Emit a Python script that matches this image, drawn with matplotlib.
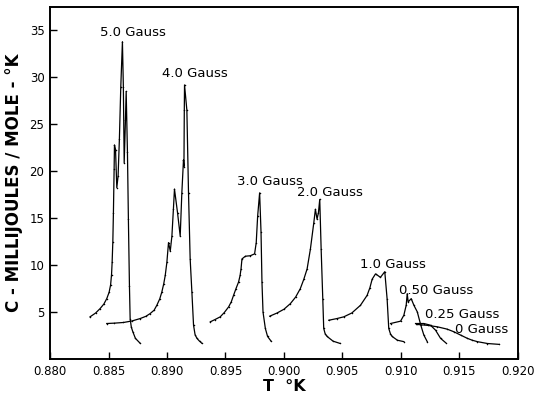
import matplotlib
matplotlib.use("Agg")
import matplotlib.pyplot as plt

# ---- data ----
t_50 = [0.88342, 0.88390, 0.88428, 0.88460, 0.88485, 0.88505, 0.88518, 0.88526, 0.88531, 0.88537,
        0.88542, 0.88548, 0.88551, 0.88560, 0.88571, 0.88582, 0.88593, 0.88605, 0.88619, 0.88627,
        0.88634, 0.88645, 0.88651, 0.88662, 0.88670, 0.88679, 0.88685, 0.88695, 0.88708, 0.88730,
        0.88771]
c_50 = [4.49, 4.90, 5.37, 5.85, 6.43, 7.10, 7.90, 9.00, 10.3, 12.5,
        15.6, 20.2, 22.8, 22.3, 18.25, 19.5, 23.4, 29.0, 33.8, 29.0,
        20.9, 25.5, 28.5, 22.0, 14.9, 7.8, 4.3, 3.4, 2.9, 2.2,
        1.67]

t_40 = [0.88485, 0.88550, 0.88628, 0.88700, 0.88771, 0.88820, 0.88856, 0.88890, 0.88913, 0.88938,
        0.88956, 0.88972, 0.88985, 0.88999, 0.89013, 0.89028, 0.89042, 0.89055, 0.89064, 0.89090,
        0.89113, 0.89127, 0.89141, 0.89145, 0.89148, 0.89150, 0.89170, 0.89184, 0.89198, 0.89213,
        0.89227, 0.89240, 0.89256, 0.89278, 0.89299]
c_40 = [3.78, 3.82, 3.89, 4.05, 4.31, 4.55, 4.84, 5.20, 5.72, 6.40,
        7.14, 8.00, 8.9, 10.3, 12.4, 11.5, 13.1, 16.0, 18.1, 15.6,
        13.1, 17.7, 21.2, 20.5, 26.5, 29.2, 26.5, 17.7, 10.7, 7.1,
        3.6, 2.6, 2.2, 1.9, 1.67]

t_30 = [0.89370, 0.89410, 0.89455, 0.89490, 0.89527, 0.89550, 0.89569, 0.89590, 0.89612, 0.89625,
        0.89633, 0.89641, 0.89670, 0.89712, 0.89749, 0.89763, 0.89775, 0.89792, 0.89804, 0.89812,
        0.89821, 0.89841, 0.89860, 0.89890]
c_30 = [3.96, 4.20, 4.49, 4.95, 5.55, 6.10, 6.78, 7.50, 8.2, 8.9,
        9.6, 10.66, 10.95, 11.0, 11.2, 12.4, 15.2, 17.7, 13.5, 8.2,
        5.0, 3.25, 2.4, 1.9]

t_20 = [0.89878, 0.89941, 0.90000, 0.90055, 0.90100, 0.90140, 0.90170, 0.90198, 0.90226, 0.90255,
        0.90269, 0.90283, 0.90295, 0.90306, 0.90318, 0.90332, 0.90340, 0.90352, 0.90369, 0.90420,
        0.90477]
c_20 = [4.56, 4.90, 5.30, 5.90, 6.60, 7.50, 8.50, 9.6, 11.7, 14.5,
        15.95, 14.9, 15.6, 17.0, 11.7, 6.4, 3.25, 2.7, 2.4, 1.9,
        1.67]

t_10 = [0.90383, 0.90450, 0.90511, 0.90580, 0.90654, 0.90711, 0.90735, 0.90754, 0.90783, 0.90825,
        0.90862, 0.90882, 0.90896, 0.90910, 0.90925, 0.90970, 0.91025]
c_10 = [4.13, 4.30, 4.49, 4.90, 5.72, 6.78, 7.60, 8.5, 9.07, 8.7,
        9.3, 6.4, 3.25, 2.7, 2.4, 2.0, 1.85]

t_05 = [0.90911, 0.90997, 0.91025, 0.91045, 0.91054, 0.91062, 0.91088, 0.91111, 0.91140, 0.91170,
        0.91196, 0.91225]
c_05 = [3.78, 4.03, 4.66, 5.72, 6.96, 6.08, 6.43, 5.72, 5.02, 3.6,
        2.55, 1.85]

t_025 = [0.91125, 0.91196, 0.91253, 0.91296, 0.91339, 0.91382]
c_025 = [3.78, 3.78, 3.6, 3.07, 2.2, 1.74]

t_00 = [0.91140, 0.91230, 0.91311, 0.91396, 0.91453, 0.91510, 0.91568, 0.91610, 0.91653, 0.91740,
        0.91838]
c_00 = [3.68, 3.58, 3.43, 3.18, 2.9, 2.55, 2.2, 2.0, 1.85, 1.65,
        1.56]

labels = ["5.0 Gauss", "4.0 Gauss", "3.0 Gauss", "2.0 Gauss", "1.0 Gauss",
          "0.50 Gauss", "0.25 Gauss", "0 Gauss"]
label_t = [0.88706, 0.89237, 0.89884, 0.90389, 0.90932, 0.91305, 0.91525, 0.91690]
label_c = [34.8, 30.4, 18.95, 17.7, 10.1, 7.3, 4.77, 3.18]

x_ticks = [0.880, 0.885, 0.890, 0.895, 0.900, 0.905, 0.910, 0.915, 0.920]
x_ticklabels = ["0.880", "0.885", "0.890", "0.895", "0.900", "0.905", "0.910", "0.915", "0.920"]
y_ticks = [5, 10, 15, 20, 25, 30, 35]

series = [(t_50, c_50), (t_40, c_40), (t_30, c_30), (t_20, c_20),
          (t_10, c_10), (t_05, c_05), (t_025, c_025), (t_00, c_00)]

# ---- figure ----
plt.rcParams['font.family'] = ['DejaVu Sans']
fig = plt.figure(figsize=(5.35, 4.0), dpi=100)
ax = fig.add_axes([0.0935, 0.1025, 0.8745, 0.88])

for t, c in series:
    ax.plot(t, c, color="black", linewidth=0.9, marker='.', markersize=2.2,
            markerfacecolor='black', markeredgewidth=0)

for s, x, y in zip(labels, label_t, label_c):
    ax.text(x, y, s, ha="center", va="center", fontsize=9.5, color="black")

ax.set_xlim(0.880, 0.920)
ax.set_ylim(0.0, 37.5)
ax.set_xticks(x_ticks)
ax.set_xticklabels(x_ticklabels)
ax.set_yticks(y_ticks)
ax.tick_params(direction="in", length=5, width=1, labelsize=8.5, pad=4)
for sp in ax.spines.values():
    sp.set_linewidth(1.4)

ax.set_xlabel("T  \u00b0K", fontsize=11.5, fontweight="bold", labelpad=1)
ax.set_ylabel("C - MILLIJOULES / MOLE - \u00b0K", fontsize=12, fontweight="bold", labelpad=5)

fig.savefig("out.png", dpi=100)
